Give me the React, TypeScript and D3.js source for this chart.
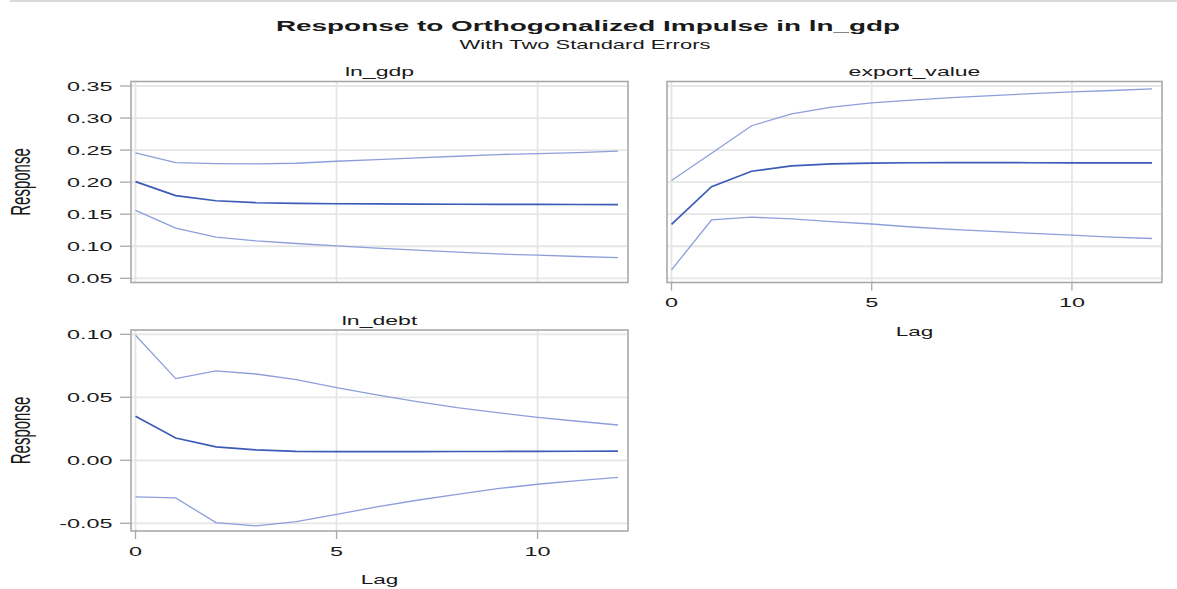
import { useEffect, useRef } from 'react';
import * as d3 from 'd3';

// lag steps on the x axis
const lags = [0, 1, 2, 3, 4, 5, 6, 7, 8, 9, 10, 11, 12];

// ln_gdp -> ln_gdp
const gdpResp = [0.2008, 0.1789, 0.171, 0.1679, 0.1669, 0.1663, 0.166, 0.1657, 0.1655, 0.1653, 0.1652, 0.1651, 0.165];
const gdpLower = [0.156, 0.1283, 0.1142, 0.1084, 0.1043, 0.1006, 0.097, 0.0938, 0.0907, 0.088, 0.086, 0.084, 0.0823];
const gdpUpper = [0.2457, 0.2305, 0.229, 0.2284, 0.2295, 0.2326, 0.235, 0.238, 0.2404, 0.243, 0.2446, 0.246, 0.2483];

// ln_gdp -> export_value
const exportResp = [0.134, 0.193, 0.217, 0.2255, 0.2285, 0.2298, 0.2303, 0.2305, 0.2305, 0.2303, 0.2302, 0.2302, 0.2302];
const exportLower = [0.0632, 0.141, 0.1453, 0.1426, 0.1384, 0.1347, 0.13, 0.1263, 0.1232, 0.12, 0.1174, 0.1142, 0.1121];
const exportUpper = [0.2025, 0.245, 0.288, 0.3065, 0.317, 0.3236, 0.328, 0.332, 0.335, 0.338, 0.3407, 0.343, 0.3455];

// ln_gdp -> ln_debt
const debtResp = [0.0349, 0.0177, 0.0106, 0.0082, 0.0071, 0.0069, 0.0069, 0.0069, 0.007, 0.007, 0.0071, 0.0072, 0.0073];
const debtLower = [-0.0291, -0.0299, -0.0495, -0.0521, -0.0487, -0.0429, -0.037, -0.0317, -0.027, -0.0225, -0.019, -0.0161, -0.0135];
const debtUpper = [0.0992, 0.0648, 0.0709, 0.0685, 0.064, 0.0577, 0.0519, 0.0466, 0.0418, 0.0378, 0.0341, 0.031, 0.028];

// tick labels
const topRowTicks = [0.05, 0.1, 0.15, 0.2, 0.25, 0.3, 0.35];
const debtTicks = [-0.05, 0, 0.05, 0.1];
const lagTicks = [0, 5, 10];

const FONT = "'Liberation Sans', Arial, sans-serif";
const SX = 1.8; // the reference is stretched horizontally

export default function App() {
  const ref = useRef<SVGSVGElement>(null);

  useEffect(() => {
    if (!ref.current) return;
    document.body.style.margin = '0';
    const svg = d3.select(ref.current);
    svg.selectAll('*').remove();

    const addText = (
      g: any, x: number, y: number, str: string,
      opts: { size: number; anchor?: string; weight?: string; rotate?: boolean; len?: number }
    ) => {
      const t = g.append('text')
        .attr('transform', `translate(${x},${y}) scale(${SX},1)${opts.rotate ? ' rotate(-90)' : ''}`)
        .attr('text-anchor', opts.anchor || 'middle')
        .attr('font-family', FONT)
        .attr('font-size', opts.size)
        .attr('font-weight', opts.weight || 'normal')
        .attr('fill', '#1a1a1a')
        .text(str);
      return t;
    };

    // thin grey rule at the very top
    svg.append('line')
      .attr('x1', 10).attr('x2', 1177).attr('y1', 1).attr('y2', 1)
      .attr('stroke', '#dadada').attr('stroke-width', 2);

    addText(svg, 588, 31, 'Response to Orthogonalized Impulse in ln_gdp', { size: 15.5, weight: 'bold' });
    addText(svg, 585, 49, 'With Two Standard Errors', { size: 12.2 });

    const panels = [
      {
        name: 'ln_gdp', left: 131, right: 628, top: 81.5, bottom: 282.5,
        y0: 278.3, y1: 86, dom: [0.05, 0.35], ticks: topRowTicks, yLabels: true, xLabels: false,
        resp: gdpResp, lo: gdpLower, hi: gdpUpper,
      },
      {
        name: 'export_value', left: 667, right: 1162, top: 81.5, bottom: 282.5,
        y0: 278.3, y1: 86, dom: [0.05, 0.35], ticks: topRowTicks, yLabels: false, xLabels: true,
        resp: exportResp, lo: exportLower, hi: exportUpper,
      },
      {
        name: 'ln_debt', left: 131, right: 628, top: 330, bottom: 531,
        y0: 523.3, y1: 334.3, dom: [-0.05, 0.1], ticks: debtTicks, yLabels: true, xLabels: true,
        resp: debtResp, lo: debtLower, hi: debtUpper,
      },
    ];

    panels.forEach(p => {
      const x = d3.scaleLinear().domain([0, 12]).range([p.left + 4.5, p.right - 10]);
      const y = d3.scaleLinear().domain(p.dom).range([p.y0, p.y1]);
      const g = svg.append('g');

      // grid
      g.selectAll('line.hgrid')
        .data(p.ticks)
        .enter()
        .append('line')
        .attr('x1', p.left).attr('x2', p.right)
        .attr('y1', d => y(d)).attr('y2', d => y(d))
        .attr('stroke', '#e6e6e6').attr('stroke-width', 1.8);
      g.selectAll('line.vgrid')
        .data(lagTicks)
        .enter()
        .append('line')
        .attr('y1', p.top).attr('y2', p.bottom)
        .attr('x1', d => x(d)).attr('x2', d => x(d))
        .attr('stroke', '#e6e6e6').attr('stroke-width', 1.8);

      // confidence bands + response
      const line = d3.line<number>()
        .x((_, i) => x(lags[i]))
        .y(d => y(d));
      [p.lo, p.hi].forEach(s => {
        g.append('path')
          .attr('d', line(s) as string)
          .attr('fill', 'none')
          .attr('stroke', '#8d9edb')
          .attr('stroke-width', 1.3);
      });
      g.append('path')
        .attr('d', line(p.resp) as string)
        .attr('fill', 'none')
        .attr('stroke', '#3b5bb7')
        .attr('stroke-width', 1.7);

      // frame
      g.append('rect')
        .attr('x', p.left).attr('y', p.top)
        .attr('width', p.right - p.left).attr('height', p.bottom - p.top)
        .attr('fill', 'none')
        .attr('stroke', '#a9a9a9')
        .attr('stroke-width', 1.6);

      addText(g, (p.left + p.right) / 2, p.top - 5.5, p.name, { size: 12.8 });

      if (p.yLabels) {
        p.ticks.forEach(t => {
          g.append('line')
            .attr('x1', p.left - 11).attr('x2', p.left)
            .attr('y1', y(t)).attr('y2', y(t))
            .attr('stroke', '#a9a9a9').attr('stroke-width', 1.3);
          addText(g, p.left - 18.5, y(t) + 4.7, d3.format('.2f')(t).replace('−', '-'), { size: 13, anchor: 'end' });
        });
        addText(g, 30, (p.top + p.bottom) / 2, 'Response', { size: 15, rotate: true });
      }
      if (p.xLabels) {
        lagTicks.forEach(t => {
          g.append('line')
            .attr('x1', x(t)).attr('x2', x(t))
            .attr('y1', p.bottom).attr('y2', p.bottom + 8)
            .attr('stroke', '#a9a9a9').attr('stroke-width', 1.3);
          addText(g, x(t), p.bottom + 24.5, String(t), { size: 13 });
        });
        addText(g, (p.left + p.right) / 2, p.bottom + 53, 'Lag', { size: 12.5 });
      }
    });
  }, []);

  return (
    <svg ref={ref} width={1177} height={589} style={{ display: 'block', background: '#fff' }} />
  );
}
